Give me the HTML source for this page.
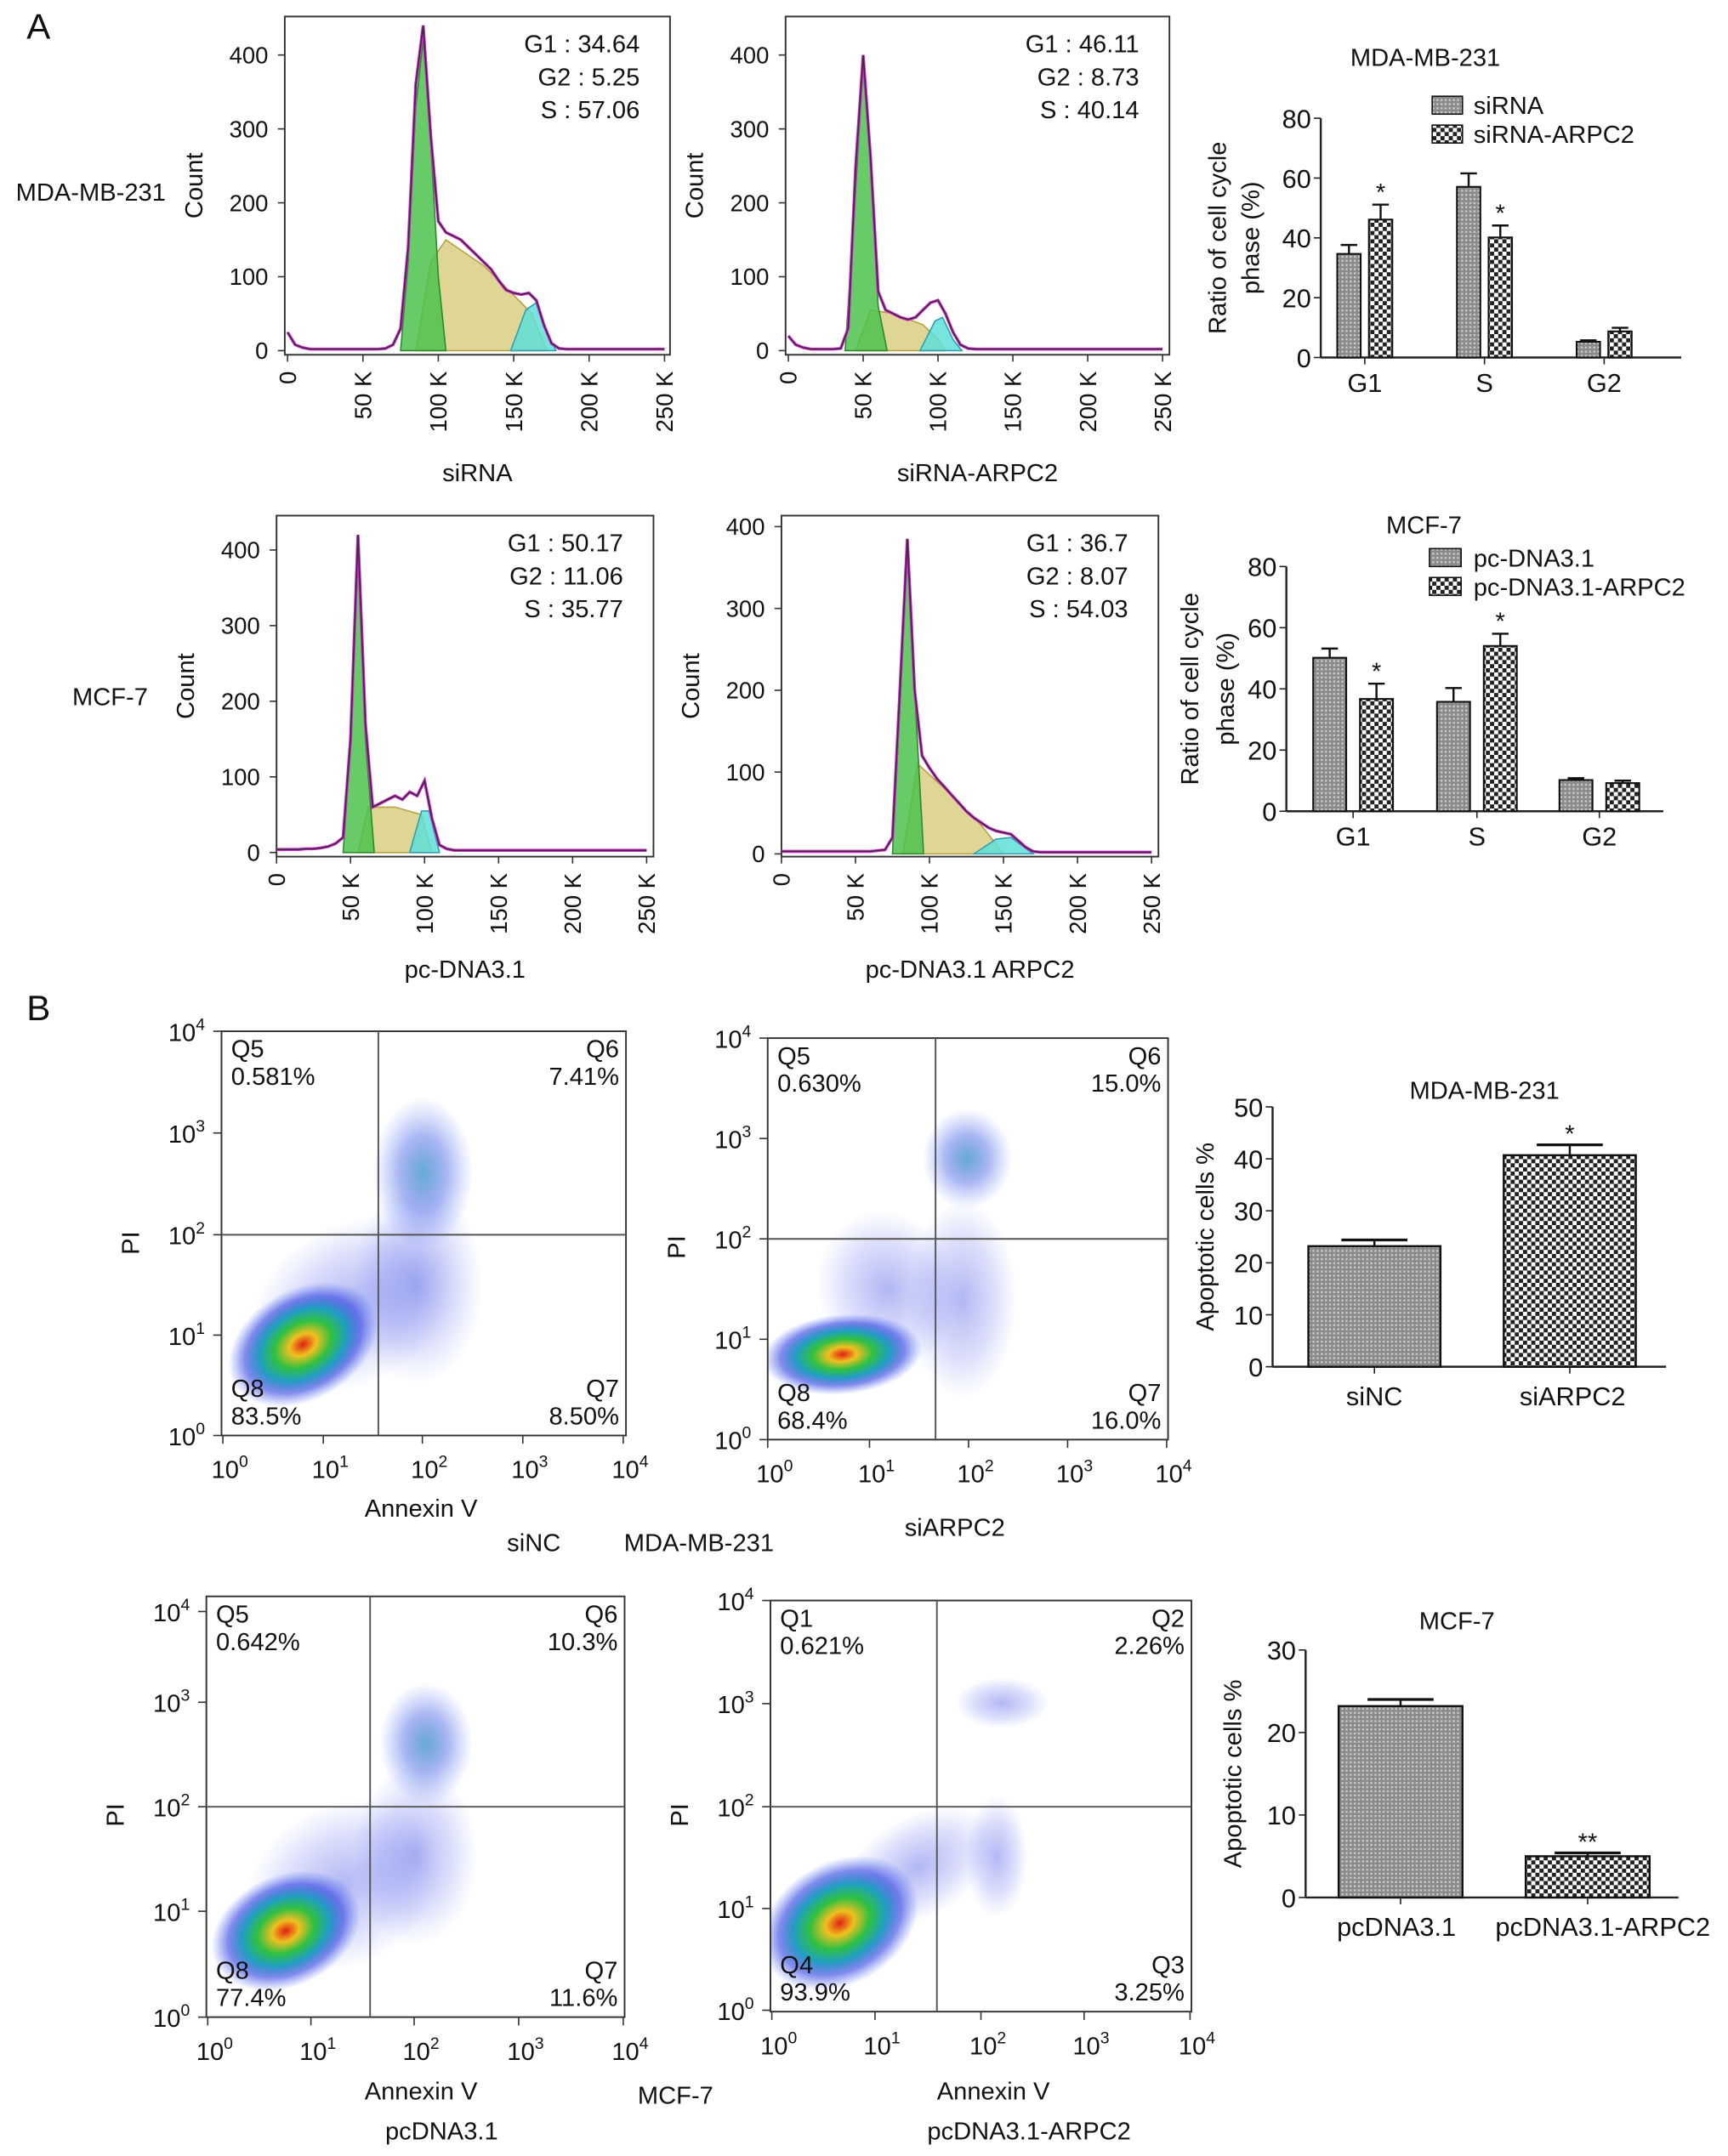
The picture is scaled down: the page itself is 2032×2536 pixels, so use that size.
<!DOCTYPE html>
<html><head><meta charset="utf-8"><style>
html,body{margin:0;padding:0;background:#fff;}
svg{display:block;font-family:"Liberation Sans",Arial,sans-serif;}
</style></head><body>
<svg id="fig" width="2032" height="2536" viewBox="0 0 1256 1568" preserveAspectRatio="none" xmlns="http://www.w3.org/2000/svg">
<defs>
<pattern id="hatch1" width="3" height="3" patternUnits="userSpaceOnUse"><rect width="3" height="3" fill="#8a8a8a"/><rect width="1.5" height="1.5" fill="#c8c8c8"/></pattern>
<pattern id="check2" width="6" height="6" patternUnits="userSpaceOnUse"><rect width="6" height="6" fill="#fff"/><rect width="3" height="3" fill="#222"/><rect x="3" y="3" width="3" height="3" fill="#222"/></pattern>
<radialGradient id="dens"><stop offset="0" stop-color="#e02010"/><stop offset="0.18" stop-color="#f0c020"/><stop offset="0.38" stop-color="#30c040"/><stop offset="0.58" stop-color="#20a0c0"/><stop offset="0.78" stop-color="#3040e0" stop-opacity="0.6"/><stop offset="1" stop-color="#4060f0" stop-opacity="0"/></radialGradient>
<radialGradient id="densB"><stop offset="0" stop-color="#3090c8" stop-opacity="0.75"/><stop offset="0.5" stop-color="#3050e0" stop-opacity="0.4"/><stop offset="1" stop-color="#5070f0" stop-opacity="0"/></radialGradient>
<radialGradient id="densL"><stop offset="0" stop-color="#3040e0" stop-opacity="0.38"/><stop offset="0.6" stop-color="#4050e8" stop-opacity="0.18"/><stop offset="1" stop-color="#5070f0" stop-opacity="0"/></radialGradient>
</defs>
</svg>
<script>
// ---------- DATA ----------
const histBinsK = [0,5,10,15,20,25,30,35,40,45,50,55,60,65,70,75,80,85,90,95,100,105,110,115,120,125,130,135,140,145,150,155,160,165,170,175,180,185,190,195,200,205,210,215,220,225,230,235,240,245,250];
const h1Total = [25,8,4,2,2,2,2,2,2,2,2,2,2,3,8,30,140,360,440,290,175,160,155,150,140,130,120,110,95,82,78,76,78,68,35,10,3,2,2,2,2,2,2,2,2,2,2,2,2,2,2];
const h1G1 = [[75,0],[80,120],[85,330],[90,420],[95,280],[100,100],[105,0]];
const h1S = [[85,0],[95,120],[105,150],[130,115],[150,75],[162,50],[172,0]];
const h1G2 = [[148,0],[158,55],[165,65],[171,30],[178,0]];
const h2Total = [20,8,4,2,2,2,2,3,30,250,400,260,80,55,50,45,42,45,55,65,68,50,25,8,3,2,2,2,2,2,2,2,2,2,2,2,2,2,2,2,2,2,2,2,2,2,2,2,2,2,2];
const h2G1 = [[38,0],[43,150],[50,390],[55,250],[60,60],[66,0]];
const h2S = [[45,0],[55,55],[70,50],[90,35],[100,15],[105,0]];
const h2G2 = [[88,0],[98,40],[103,45],[110,15],[116,0]];
const h3Total = [4,4,4,4,5,5,6,8,12,20,150,420,170,60,65,70,75,70,80,75,95,45,10,5,3,3,3,3,3,3,3,3,3,3,3,3,3,3,3,3,3,3,3,3,3,3,3,3,3,3,3];
const h3G1 = [[45,0],[50,140],[55,400],[60,150],[66,0]];
const h3S = [[55,0],[62,60],[80,60],[98,50],[105,0]];
const h3G2 = [[90,0],[98,55],[103,55],[110,0]];
const h4Total = [3,3,3,3,3,3,3,3,3,3,3,3,3,4,5,20,200,385,200,120,105,92,82,72,62,52,44,38,32,28,26,24,16,8,3,2,2,2,2,2,2,2,2,2,2,2,2,2,2,2,2];
const h4G1 = [[75,0],[80,180],[85,370],[90,200],[96,0]];
const h4S = [[82,0],[92,110],[110,80],[135,35],[150,0]];
const h4G2 = [[130,0],[145,18],[155,20],[170,0]];
const histYTicks = [0,100,200,300,400];
const histXTicks = [0,50,100,150,200,250];
const histXTickLabels = ['0','50 K','100 K','150 K','200 K','250 K'];

const cycleCats = ['G1','S','G2'];
const mdaCtrl = [34.64,57.06,5.25];
const mdaCtrlErr = [3,4.5,0.5];
const mdaTreat = [46.11,40.14,8.73];
const mdaTreatErr = [5,4,1.2];
const mcfCtrl = [50.17,35.77,10.2];
const mcfCtrlErr = [3,4.5,0.6];
const mcfTreat = [36.7,54.03,9.2];
const mcfTreatErr = [5,4,0.8];
const cycleYTicks = [0,20,40,60,80];

const apoMdaCats = ['siNC','siARPC2'];
const apoMdaVals = [23.2,40.7];
const apoMdaErr = [1.2,2.0];
const apoMdaTicks = [0,10,20,30,40,50];
const apoMcfCats = ['pcDNA3.1','pcDNA3.1-ARPC2'];
const apoMcfVals = [23.2,5.0];
const apoMcfErr = [0.8,0.4];
const apoMcfTicks = [0,10,20,30];

// scatter clusters: log10 x, log10 y, radius x, radius y (decades), tilt (deg)
const sc1X=[0.8,2.0,1.95,1.3], sc1Y=[0.9,2.6,1.5,1.3], sc1Rx=[0.8,0.5,0.65,1.1], sc1Ry=[0.55,0.75,1.0,0.8], sc1Tilt=[-30,0,0,-30];
const sc2X=[0.75,2.0,1.95,1.2], sc2Y=[0.85,2.8,1.4,1.5], sc2Rx=[0.8,0.45,0.55,0.7], sc2Ry=[0.4,0.5,1.0,0.8], sc2Tilt=[-5,0,0,-20];
const sc3X=[0.75,2.1,2.0,1.3], sc3Y=[0.85,2.7,1.6,1.3], sc3Rx=[0.75,0.45,0.6,1.0], sc3Ry=[0.55,0.6,0.9,0.8], sc3Tilt=[-25,0,0,-30];
const sc4X=[0.65,2.2,2.15,1.4], sc4Y=[0.85,3.0,1.5,1.4], sc4Rx=[0.8,0.45,0.3,0.8], sc4Ry=[0.6,0.25,0.6,0.5], sc4Tilt=[-30,0,0,-30];

// ---------- HELPERS ----------
const NS='http://www.w3.org/2000/svg';
const svg=document.getElementById('fig');
function mk(tag,attrs,parent){const e=document.createElementNS(NS,tag);for(const k in attrs)e.setAttribute(k,attrs[k]);(parent||svg).appendChild(e);return e;}
function txt(s,x,y,size,anchor,parent,rot){const e=mk('text',{x:x,y:y,'font-size':size,'text-anchor':anchor||'middle',fill:'#111'},parent);if(rot)e.setAttribute('transform','rotate('+rot+' '+x+' '+y+')');e.textContent=s;return e;}
function lin(d0,d1,p0,p1){return v=>p0+(v-d0)/(d1-d0)*(p1-p0);}

let t;
t=txt('A',28,28,26,'middle');
t=txt('B',28,742,26,'middle');

// ---------- HISTOGRAMS ----------
function hist(c,total,g1,s,g2,stats){
  const g=mk('g',{});
  
  
  const X=lin(0,250,c.x0,c.x250), Y=lin(0,400,c.y0,c.y400);
  const f=mk('rect',{x:c.fx,y:c.fy,width:c.fw,height:c.fh,fill:'none',stroke:'#333','stroke-width':1.2},g);
  
  function poly(pts,fill,stroke,name){const d='M'+pts.map(p=>X(p[0]).toFixed(1)+','+Y(p[1]).toFixed(1)).join('L')+'Z';const p=mk('path',{d:d,fill:fill,stroke:stroke,'stroke-width':1,'fill-opacity':0.85},g);}
  poly(s,'#d9cf84','#b8a040','s-phase-fill');
  poly(g2,'#5fe0d8','#30a0b0','g2-phase-fill');
  poly(g1,'#4cc24c','#2c8c2c','g1-phase-fill');
  const dT='M'+total.map((v,i)=>X(histBinsK[i]).toFixed(1)+','+Y(v).toFixed(1)).join('L');
  let p=mk('path',{d:dT,fill:'none',stroke:'#e020e0','stroke-width':2.2},g);
  
  p=mk('path',{d:dT,fill:'none',stroke:'#333','stroke-width':1},g);
  
  histYTicks.forEach(v=>{mk('line',{x1:c.fx-5,x2:c.fx,y1:Y(v),y2:Y(v),stroke:'#333'},g);const e=txt(String(v),c.fx-12,Y(v)+6,17,'end',g);});
  histXTicks.forEach((v,i)=>{mk('line',{x1:X(v),x2:X(v),y1:c.fy+c.fh,y2:c.fy+c.fh+5,stroke:'#333'},g);const e=txt(histXTickLabels[i],X(v)+6,c.fy+c.fh+12,17,'end',g,-90);});
  let e=txt('Count',c.fx-60,(c.fy+c.fh/2),18,'middle',g,-90);
  e=txt(c.label,c.fx+c.fw/2,c.labY,18,'middle',g);
  stats.forEach((s2,i)=>{const e2=txt(s2,c.fx+c.fw-22,c.fy+26+i*24,18,'end',g);});
}
hist({name:'histogram-sirna',fx:207,fy:12,fw:280,fh:246,x0:209,x250:483,y0:255,y400:40,label:'siRNA',labY:350},h1Total,h1G1,h1S,h1G2,['G1 : 34.64','G2 : 5.25','S : 57.06']);
hist({name:'histogram-sirna-arpc2',fx:571,fy:12,fw:279,fh:246,x0:573,x250:845,y0:255,y400:40,label:'siRNA-ARPC2',labY:350},h2Total,h2G1,h2S,h2G2,['G1 : 46.11','G2 : 8.73','S : 40.14']);
hist({name:'histogram-pcdna',fx:201,fy:375,fw:274,fh:248,x0:201,x250:470,y0:620,y400:400,label:'pc-DNA3.1',labY:711},h3Total,h3G1,h3S,h3G2,['G1 : 50.17','G2 : 11.06','S : 35.77']);
hist({name:'histogram-pcdna-arpc2',fx:568,fy:375,fw:274,fh:248,x0:568,x250:837,y0:621,y400:383,label:'pc-DNA3.1 ARPC2',labY:711},h4Total,h4G1,h4S,h4G2,['G1 : 36.7','G2 : 8.07','S : 54.03']);
t=txt('MDA-MB-231',66,146,18,'middle');
t=txt('MCF-7',80,513,18,'middle');

// ---------- GROUPED BARS ----------
function cycleBars(c,ctrl,ctrlE,tr,trE,sig,legend){
  const g=mk('g',{});
  
  
  const Y=lin(0,80,c.y0,c.y80);
  mk('line',{x1:c.ax,x2:c.ax,y1:c.y80,y2:c.y0,stroke:'#222','stroke-width':1.5},g);
  mk('line',{x1:c.ax,x2:c.axEnd,y1:c.y0,y2:c.y0,stroke:'#222','stroke-width':1.5},g);
  cycleYTicks.forEach(v=>{mk('line',{x1:c.ax-5,x2:c.ax,y1:Y(v),y2:Y(v),stroke:'#222'},g);const e=txt(String(v),c.ax-7,Y(v)+7,19,'end',g);});
  const bw=c.bw;
  cycleCats.forEach((cat,i)=>{
    const cx=c.cx[i];
    mk('line',{x1:cx,x2:cx,y1:c.y0,y2:c.y0+5,stroke:'#222'},g);
    const e=txt(cat,cx,c.y0+25,19,'middle',g);
    [[ctrl,ctrlE,'url(#hatch1)',-1],[tr,trE,'url(#check2)',1]].forEach(([vals,errs,fill,side])=>{
      const x=side<0?cx-bw-c.gap/2:cx+c.gap/2;
      const r=mk('rect',{x:x,y:Y(vals[i]),width:bw,height:c.y0-Y(vals[i]),fill:fill,stroke:'#111','stroke-width':1.3},g);
      
      
      const mx=x+bw/2,top=Y(vals[i]+errs[i]);
      mk('line',{x1:mx,x2:mx,y1:Y(vals[i]),y2:top,stroke:'#111','stroke-width':1.5},g);
      mk('line',{x1:mx-6,x2:mx+6,y1:top,y2:top,stroke:'#111','stroke-width':1.5},g);
      if(side>0&&sig[i]){const s=txt('*',mx,top-3,18,'middle',g);}
    });
  });
  let e=txt('Ratio of cell cycle',c.t1,(c.y0+c.y80)/2,18,'middle',g,-90);
  e=txt('phase (%)',c.t2,(c.y0+c.y80)/2,18,'middle',g,-90);
  e=txt(c.title,c.tx,c.ty,18,'middle',g);
  legend.forEach((L,i)=>{const r=mk('rect',{x:c.lx,y:c.ly[i]-13,width:c.lw,height:13,fill:i?'url(#check2)':'url(#hatch1)',stroke:'#111'},g);const e2=txt(L,c.ltx,c.ly[i],18,'start',g);});
}
cycleBars({name:'mda-cell-cycle-bars',ax:960,axEnd:1222,y0:260,y80:86,cx:[992,1079,1166],bw:17,gap:6,title:'MDA-MB-231',tx:1036,ty:48,lx:1041,lw:22,ltx:1071,ly:[83,104],t1:891,t2:915},mdaCtrl,mdaCtrlErr,mdaTreat,mdaTreatErr,[1,1,0],['siRNA','siRNA-ARPC2']);
cycleBars({name:'mcf-cell-cycle-bars',ax:935,axEnd:1209,y0:590,y80:412,cx:[983.5,1073.5,1162.5],bw:24,gap:10,title:'MCF-7',tx:1035,ty:388,lx:1039,lw:23,ltx:1071,ly:[412,433],t1:871,t2:897},mcfCtrl,mcfCtrlErr,mcfTreat,mcfTreatErr,[1,1,0],['pc-DNA3.1','pc-DNA3.1-ARPC2']);

// ---------- SCATTER ----------
function scatter(c,cx,cy,rx,ry,tilt,qlab){
  const g=mk('g',{});
  
  
  const X=lin(0,4,c.xt[0],c.xt[4]), Y=lin(0,4,c.yt[0],c.yt[4]);
  const sx=(c.xt[4]-c.xt[0])/4, sy=(c.yt[0]-c.yt[4])/4;
  const cp=mk('clipPath',{id:'cp'+c.name},g);mk('rect',{x:c.fx,y:c.fy,width:c.fw,height:c.fh},cp);
  const inner=mk('g',{'clip-path':'url(#cp'+c.name+')'},g);
  const grads=['url(#dens)',c.q6grad,'url(#densL)','url(#densL)'];
  for(let i=cx.length-1;i>=0;i--){const px=X(cx[i]),py=Y(cy[i]);const el=mk('ellipse',{cx:px,cy:py,rx:rx[i]*sx,ry:ry[i]*sy,fill:grads[i],transform:'rotate('+tilt[i]+' '+px+' '+py+')'},inner);}
  const f=mk('rect',{x:c.fx,y:c.fy,width:c.fw,height:c.fh,fill:'none',stroke:'#333','stroke-width':1.2},g);
  mk('line',{x1:c.qx,x2:c.qx,y1:c.fy,y2:c.fy+c.fh,stroke:'#555','stroke-width':1.2},g);
  mk('line',{x1:c.fx,x2:c.fx+c.fw,y1:c.qy,y2:c.qy,stroke:'#555','stroke-width':1.2},g);
  for(let k=0;k<=4;k++){
    mk('line',{x1:c.xt[k],x2:c.xt[k],y1:c.fy+c.fh,y2:c.fy+c.fh+6,stroke:'#333'},g);
    let e=mk('text',{x:c.xt[k]+5,y:c.fy+c.fh+31,'font-size':18,'text-anchor':'middle',fill:'#111'},g);e.innerHTML='10<tspan dy="-8" font-size="12">'+k+'</tspan>';
    mk('line',{x1:c.fx-6,x2:c.fx,y1:c.yt[k],y2:c.yt[k],stroke:'#333'},g);
    e=mk('text',{x:c.fx-12,y:c.yt[k]+7,'font-size':18,'text-anchor':'end',fill:'#111'},g);e.innerHTML='10<tspan dy="-8" font-size="12">'+k+'</tspan>';
  }
  let e=txt('PI',c.fx-60,c.qy+6,18,'middle',g,-90);
  if(c.xlab){e=txt(c.xlab,c.xlabX,c.xlabY,18,'middle',g);}
  const L=c.fx+7,R=c.fx+c.fw-5;
  [[qlab[0],L,c.fy+19,'start'],[qlab[1],L,c.fy+39,'start'],[qlab[2],R,c.fy+19,'end'],[qlab[3],R,c.fy+39,'end'],
   [qlab[4],L,c.fy+c.fh-28,'start'],[qlab[5],L,c.fy+c.fh-8,'start'],[qlab[6],R,c.fy+c.fh-28,'end'],[qlab[7],R,c.fy+c.fh-8,'end']].forEach(q=>{const e2=txt(q[0],q[1],q[2],18,q[3],g);});
}
scatter({name:'scatter-sinc',fx:161,fy:750,fw:294,fh:294,xt:[162,235,307,380,453],yt:[1044,971,898,824,750],qx:275,qy:898,xlab:'Annexin V',xlabX:306,xlabY:1103,q6grad:'url(#densB)'},sc1X,sc1Y,sc1Rx,sc1Ry,sc1Tilt,['Q5','0.581%','Q6','7.41%','Q8','83.5%','Q7','8.50%']);
scatter({name:'scatter-siarpc2',fx:558,fy:755,fw:291,fh:292,xt:[558,632,704,776,848],yt:[1047,974,901,828,755],qx:680,qy:901,q6grad:'url(#densB)'},sc2X,sc2Y,sc2Rx,sc2Ry,sc2Tilt,['Q5','0.630%','Q6','15.0%','Q8','68.4%','Q7','16.0%']);
scatter({name:'scatter-pcdna',fx:150,fy:1161,fw:304,fh:306,xt:[151,226,301,377,453],yt:[1467,1390,1314,1238,1172],qx:269,qy:1314,xlab:'Annexin V',xlabX:306,xlabY:1527,q6grad:'url(#densB)'},sc3X,sc3Y,sc3Rx,sc3Ry,sc3Tilt,['Q5','0.642%','Q6','10.3%','Q8','77.4%','Q7','11.6%']);
scatter({name:'scatter-pcdna-arpc2',fx:560,fy:1164,fw:306,fh:299,xt:[561,636,713,788,865],yt:[1462,1388,1314,1239,1164],qx:681,qy:1314,xlab:'Annexin V',xlabX:722,xlabY:1527,q6grad:'url(#densL)'},sc4X,sc4Y,sc4Rx,sc4Ry,sc4Tilt,['Q1','0.621%','Q2','2.26%','Q4','93.9%','Q3','3.25%']);
[['siARPC2',694,1117,'label-siarpc2'],['siNC',388,1128,'label-sinc'],['MDA-MB-231',508,1128,'label-mda-scatter'],['pcDNA3.1',321,1556,'label-pcdna'],['MCF-7',491,1530,'label-mcf-scatter'],['pcDNA3.1-ARPC2',748,1556,'label-pcdna-arpc2']].forEach(a=>{const e=txt(a[0],a[1],a[2],18,'middle');});

// ---------- APOPTOSIS BARS ----------
function apoBars(c,cats,vals,errs,ticks,stars){
  const g=mk('g',{});
  
  
  const max=ticks[ticks.length-1];
  const Y=lin(0,max,c.y0,c.ytop);
  mk('line',{x1:c.ax,x2:c.ax,y1:c.ytop,y2:c.y0,stroke:'#222','stroke-width':1.5},g);
  mk('line',{x1:c.ax,x2:c.axEnd,y1:c.y0,y2:c.y0,stroke:'#222','stroke-width':1.5},g);
  ticks.forEach(v=>{mk('line',{x1:c.ax-5,x2:c.ax,y1:Y(v),y2:Y(v),stroke:'#222'},g);const e=txt(String(v),c.ax-7,Y(v)+7,19,'end',g);});
  cats.forEach((cat,i)=>{
    const cx=c.cx[i];
    const r=mk('rect',{x:cx-c.bw/2,y:Y(vals[i]),width:c.bw,height:c.y0-Y(vals[i]),fill:i?'url(#check2)':'url(#hatch1)',stroke:'#111','stroke-width':1.5},g);
    
    
    const top=Y(vals[i]+errs[i]);
    mk('line',{x1:cx,x2:cx,y1:Y(vals[i]),y2:top,stroke:'#111','stroke-width':1.5},g);
    mk('line',{x1:cx-24,x2:cx+24,y1:top,y2:top,stroke:'#111','stroke-width':2},g);
    if(stars[i]){const s=txt(stars[i],cx,top-2,18,'middle',g);}
    mk('line',{x1:cx,x2:cx,y1:c.y0,y2:c.y0+5,stroke:'#222'},g);
    const e=txt(cat,c.lx[i],c.y0+28,19,'middle',g);
  });
  let e=txt('Apoptotic cells %',c.ytx,(c.y0+c.ytop)/2,18,'middle',g,-90);
  e=txt(c.title,c.tx,c.ty,18,'middle',g);
}
apoBars({name:'mda-apoptosis-bars',ax:925,axEnd:1211,y0:994,ytop:805,cx:[999,1141],lx:[999,1143],bw:96,title:'MDA-MB-231',tx:1079,ty:799,ytx:882},apoMdaCats,apoMdaVals,apoMdaErr,apoMdaTicks,['','*']);
apoBars({name:'mcf-apoptosis-bars',ax:949,axEnd:1220,y0:1380,ytop:1200,cx:[1018,1154],lx:[1015,1165],bw:90,title:'MCF-7',tx:1059,ty:1185,ytx:902},apoMcfCats,apoMcfVals,apoMcfErr,apoMcfTicks,['','**']);
</script>
</body></html>
